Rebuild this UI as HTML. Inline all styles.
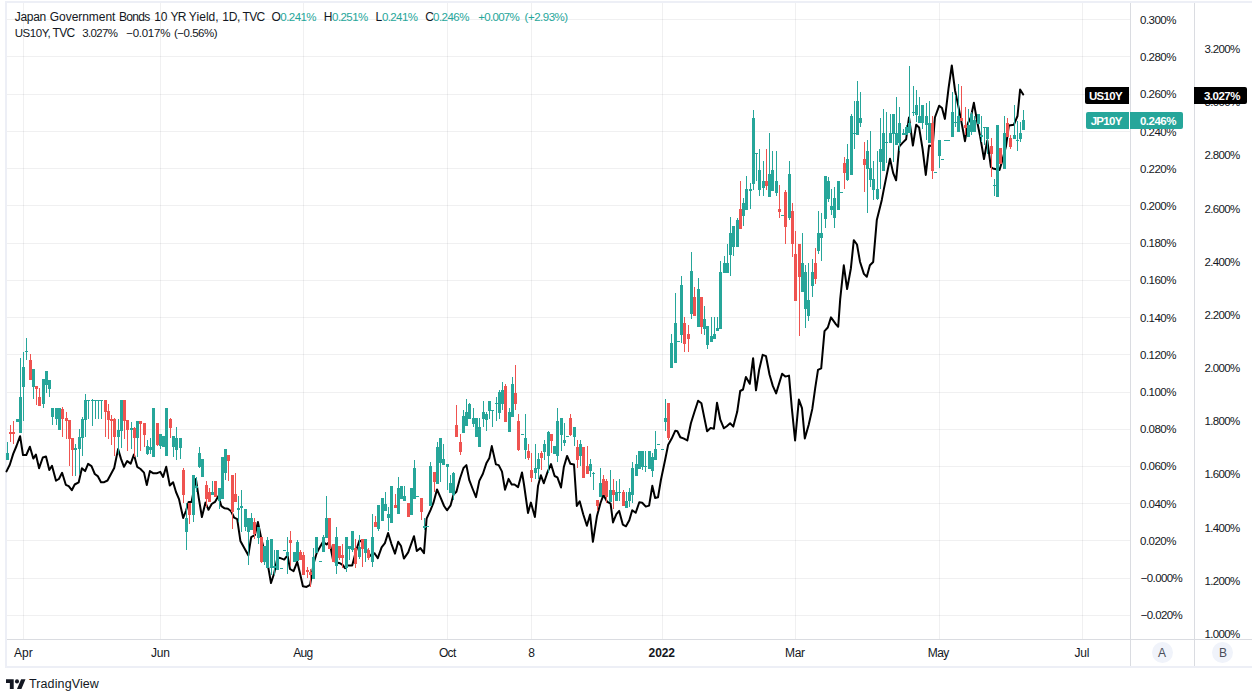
<!DOCTYPE html>
<html><head><meta charset="utf-8"><title>JP10Y vs US10Y</title>
<style>
html,body{margin:0;padding:0;background:#fff;}
body{width:1252px;height:696px;position:relative;overflow:hidden;font-family:"Liberation Sans",sans-serif;font-size:12px;color:#131722;}
#frame{position:absolute;left:5px;top:1px;width:1247px;height:667px;border-left:2px solid #edeff6;border-top:2px solid #edeff6;border-bottom:2px solid #edeff6;box-sizing:border-box;}
#chart{position:absolute;left:0;top:0;}
.ax{position:absolute;background:#dadce1;}
.s{position:absolute;height:14px;line-height:14px;white-space:pre;}
.tag{position:absolute;height:17px;}
.circ{position:absolute;width:21px;height:21px;border-radius:10.5px;background:#f0f3fa;}
</style></head><body>
<div id="frame"></div>
<svg id="chart" width="1252" height="696" viewBox="0 0 1252 696" shape-rendering="crispEdges"><rect x="7" y="19" width="1123" height="1" fill="#2a2e39" fill-opacity="0.07"/><rect x="7" y="56" width="1123" height="1" fill="#2a2e39" fill-opacity="0.07"/><rect x="7" y="94" width="1123" height="1" fill="#2a2e39" fill-opacity="0.07"/><rect x="7" y="131" width="1123" height="1" fill="#2a2e39" fill-opacity="0.07"/><rect x="7" y="168" width="1123" height="1" fill="#2a2e39" fill-opacity="0.07"/><rect x="7" y="205" width="1123" height="1" fill="#2a2e39" fill-opacity="0.07"/><rect x="7" y="243" width="1123" height="1" fill="#2a2e39" fill-opacity="0.07"/><rect x="7" y="280" width="1123" height="1" fill="#2a2e39" fill-opacity="0.07"/><rect x="7" y="317" width="1123" height="1" fill="#2a2e39" fill-opacity="0.07"/><rect x="7" y="354" width="1123" height="1" fill="#2a2e39" fill-opacity="0.07"/><rect x="7" y="392" width="1123" height="1" fill="#2a2e39" fill-opacity="0.07"/><rect x="7" y="429" width="1123" height="1" fill="#2a2e39" fill-opacity="0.07"/><rect x="7" y="466" width="1123" height="1" fill="#2a2e39" fill-opacity="0.07"/><rect x="7" y="503" width="1123" height="1" fill="#2a2e39" fill-opacity="0.07"/><rect x="7" y="540" width="1123" height="1" fill="#2a2e39" fill-opacity="0.07"/><rect x="7" y="578" width="1123" height="1" fill="#2a2e39" fill-opacity="0.07"/><rect x="7" y="615" width="1123" height="1" fill="#2a2e39" fill-opacity="0.07"/><rect x="23" y="3" width="1" height="636" fill="#2a2e39" fill-opacity="0.07"/><rect x="160" y="3" width="1" height="636" fill="#2a2e39" fill-opacity="0.07"/><rect x="303" y="3" width="1" height="636" fill="#2a2e39" fill-opacity="0.07"/><rect x="447" y="3" width="1" height="636" fill="#2a2e39" fill-opacity="0.07"/><rect x="531" y="3" width="1" height="636" fill="#2a2e39" fill-opacity="0.07"/><rect x="662" y="3" width="1" height="636" fill="#2a2e39" fill-opacity="0.07"/><rect x="795" y="3" width="1" height="636" fill="#2a2e39" fill-opacity="0.07"/><rect x="939" y="3" width="1" height="636" fill="#2a2e39" fill-opacity="0.07"/><rect x="1082" y="3" width="1" height="636" fill="#2a2e39" fill-opacity="0.07"/><polyline points="6.5,471.4 9.8,464.7 13.2,453.9 16.5,446.0 20.1,436.2 23.0,455.0 26.3,455.0 29.9,446.7 33.3,458.6 35.9,454.6 39.1,468.2 42.8,457.5 46.0,456.5 49.3,470.0 52.0,465.8 56.0,480.7 58.9,479.0 62.1,472.8 65.8,484.8 68.7,486.2 71.8,490.2 74.7,484.5 78.7,482.3 81.9,468.2 85.1,471.1 88.1,463.9 91.5,466.1 94.8,474.0 97.7,476.1 101.0,482.2 104.2,482.2 107.5,480.5 110.6,474.7 114.2,468.0 118.1,449.1 121.0,458.9 124.0,466.8 127.2,461.1 130.7,463.6 133.9,454.6 137.2,466.8 140.5,469.0 144.0,472.6 146.8,485.1 149.9,471.1 153.4,473.3 156.6,473.3 160.2,471.8 163.1,476.9 166.2,466.8 169.8,485.5 173.1,482.2 176.0,492.0 179.0,499.1 183.2,518.0 186.1,510.5 188.7,501.9 191.6,501.9 195.9,478.9 198.7,497.6 201.9,517.0 205.5,502.6 208.5,509.8 211.7,504.0 215.0,501.9 218.4,496.1 221.4,506.2 224.6,508.3 227.9,508.8 231.1,511.2 234.2,517.7 237.2,519.1 240.4,540.9 248.3,555.3 251.2,537.1 254.8,535.2 257.9,522.0 261.2,538.1 264.8,553.2 268.4,568.2 271.0,583.0 274.2,573.3 277.5,557.5 279.9,557.9 284.2,559.6 287.5,555.3 290.0,569.0 293.6,571.1 297.2,561.8 300.0,573.3 302.9,586.2 306.5,586.9 310.1,584.8 313.7,563.2 316.6,553.2 319.4,548.1 323.0,541.7 326.6,544.5 329.5,541.7 333.1,560.3 336.7,562.5 340.0,563.2 343.1,565.4 345.0,568.2 347.9,565.4 352.2,565.4 355.8,551.7 359.4,540.5 363.0,542.4 366.6,550.3 370.9,556.0 374.5,553.2 377.8,558.2 381.6,547.4 384.9,543.1 388.1,533.0 391.4,543.8 395.0,553.6 398.2,541.7 401.0,546.0 403.9,558.6 408.2,552.4 414.0,536.2 416.8,551.0 420.4,548.1 424.0,553.2 426.6,518.7 430.5,510.1 433.4,502.9 437.0,489.5 440.5,497.4 444.1,506.0 447.0,510.3 450.6,505.3 453.5,494.5 456.4,491.7 459.9,478.7 463.5,468.0 466.4,465.1 469.3,480.2 472.9,489.5 476.0,497.1 479.3,480.9 482.9,473.7 486.5,462.9 489.4,457.9 491.8,446.1 495.9,464.4 498.7,465.1 502.0,471.6 505.0,489.7 508.6,478.9 511.7,484.5 514.5,484.5 518.1,487.1 522.0,472.4 524.0,484.5 528.0,512.9 530.9,502.6 534.9,517.0 538.0,486.1 540.9,475.3 543.8,483.2 547.4,472.4 551.0,464.1 554.6,476.0 557.4,477.4 561.0,487.5 563.9,466.7 567.1,455.9 570.4,463.8 574.0,464.5 576.8,505.9 579.7,501.3 583.3,514.5 586.9,525.7 590.1,514.5 592.9,541.8 597.0,515.9 600.5,503.0 603.4,495.1 607.0,501.6 610.6,503.7 613.0,522.4 616.4,514.2 619.2,510.9 622.8,524.6 626.0,526.3 629.3,520.3 632.2,510.2 635.7,512.8 639.3,502.3 642.2,502.7 645.8,506.6 649.1,505.6 652.3,485.8 655.1,498.0 658.0,497.3 660.9,480.0 665.2,459.5 668.1,445.1 671.7,438.6 675.3,430.7 677.4,431.2 680.3,437.2 684.0,438.6 687.3,440.5 690.9,423.3 694.5,411.8 698.1,400.7 701.4,403.2 704.3,417.6 707.1,431.2 710.6,427.9 713.9,428.8 717.0,402.8 720.3,419.7 723.9,428.3 726.8,426.2 730.1,423.3 733.3,426.6 737.2,411.8 740.2,391.0 743.0,389.5 745.9,377.0 749.8,383.8 753.1,358.2 756.0,390.3 759.1,370.1 762.7,354.8 766.0,356.2 769.5,374.5 772.8,385.9 776.1,393.4 782.1,373.7 785.3,376.6 789.0,375.6 791.9,408.9 795.1,440.5 798.9,399.6 802.0,408.2 804.8,438.4 808.7,424.7 812.3,408.9 815.2,388.1 818.0,369.9 821.2,368.4 824.5,331.1 827.8,327.5 831.0,317.4 836.0,324.3 838.2,326.8 840.2,299.1 843.8,265.3 847.1,289.0 850.9,268.2 853.8,240.2 857.0,244.5 860.0,261.7 863.9,273.9 866.8,276.8 869.9,265.3 873.2,262.0 876.8,220.1 881.8,199.9 883.9,188.9 890.0,158.7 893.2,173.1 896.1,180.3 899.2,146.5 902.5,142.9 906.1,139.3 909.0,117.5 912.9,145.5 916.2,124.7 919.1,127.5 922.6,149.1 925.8,174.9 929.1,145.5 932.7,146.2 934.9,117.5 939.2,105.7 942.0,108.1 944.9,118.9 948.5,88.7 951.8,65.5 955.0,90.2 958.6,107.4 961.4,121.8 965.0,141.2 967.9,123.2 970.8,117.5 973.9,102.8 977.2,121.8 980.1,136.1 984.0,159.1 987.3,140.5 990.9,167.0 993.0,168.5 999.5,169.9 1001.7,162.7 1006.0,146.2 1008.9,125.4 1013.9,124.7 1017.5,116.0 1020.1,89.5 1023.2,94.5" fill="none" stroke="#000" stroke-width="2" stroke-linejoin="round" stroke-linecap="round" shape-rendering="geometricPrecision"/><rect x="7" y="442" width="1" height="18" fill="#26a69a"/><rect x="6" y="453" width="3" height="7" fill="#26a69a"/><rect x="10" y="425" width="1" height="17" fill="#ef5350"/><rect x="9" y="432" width="3" height="2" fill="#ef5350"/><rect x="13" y="421" width="1" height="23" fill="#ef5350"/><rect x="12" y="432" width="3" height="2" fill="#ef5350"/><rect x="16" y="419" width="3" height="3" fill="#26a69a"/><rect x="20" y="358" width="1" height="75" fill="#26a69a"/><rect x="19" y="397" width="3" height="36" fill="#26a69a"/><rect x="23" y="352" width="1" height="69" fill="#26a69a"/><rect x="22" y="367" width="3" height="20" fill="#26a69a"/><rect x="26" y="338" width="1" height="22" fill="#26a69a"/><rect x="25" y="351" width="3" height="1" fill="#26a69a"/><rect x="30" y="354" width="1" height="26" fill="#ef5350"/><rect x="29" y="360" width="3" height="20" fill="#ef5350"/><rect x="33" y="369" width="1" height="30" fill="#26a69a"/><rect x="32" y="369" width="3" height="18" fill="#26a69a"/><rect x="36" y="386" width="1" height="19" fill="#ef5350"/><rect x="35" y="386" width="3" height="3" fill="#ef5350"/><rect x="39" y="388" width="1" height="18" fill="#ef5350"/><rect x="38" y="397" width="3" height="9" fill="#ef5350"/><rect x="43" y="379" width="1" height="29" fill="#26a69a"/><rect x="42" y="379" width="3" height="25" fill="#26a69a"/><rect x="46" y="371" width="1" height="22" fill="#26a69a"/><rect x="45" y="371" width="3" height="14" fill="#26a69a"/><rect x="49" y="380" width="1" height="17" fill="#26a69a"/><rect x="48" y="380" width="3" height="9" fill="#26a69a"/><rect x="52" y="408" width="1" height="17" fill="#26a69a"/><rect x="51" y="408" width="3" height="9" fill="#26a69a"/><rect x="56" y="408" width="1" height="17" fill="#26a69a"/><rect x="55" y="408" width="3" height="11" fill="#26a69a"/><rect x="58" y="408" width="3" height="22" fill="#26a69a"/><rect x="62" y="407" width="1" height="30" fill="#ef5350"/><rect x="61" y="409" width="3" height="10" fill="#ef5350"/><rect x="66" y="412" width="1" height="27" fill="#ef5350"/><rect x="65" y="418" width="3" height="3" fill="#ef5350"/><rect x="69" y="420" width="1" height="46" fill="#ef5350"/><rect x="68" y="420" width="3" height="19" fill="#ef5350"/><rect x="72" y="438" width="1" height="38" fill="#ef5350"/><rect x="71" y="438" width="3" height="12" fill="#ef5350"/><rect x="75" y="444" width="1" height="32" fill="#26a69a"/><rect x="74" y="448" width="3" height="2" fill="#26a69a"/><rect x="79" y="429" width="1" height="45" fill="#26a69a"/><rect x="78" y="437" width="3" height="12" fill="#26a69a"/><rect x="82" y="417" width="1" height="39" fill="#26a69a"/><rect x="81" y="419" width="3" height="19" fill="#26a69a"/><rect x="85" y="394" width="1" height="43" fill="#26a69a"/><rect x="84" y="400" width="3" height="20" fill="#26a69a"/><rect x="88" y="400" width="1" height="19" fill="#26a69a"/><rect x="87" y="400" width="3" height="1" fill="#26a69a"/><rect x="92" y="399" width="1" height="27" fill="#26a69a"/><rect x="91" y="400" width="3" height="1" fill="#26a69a"/><rect x="95" y="400" width="1" height="19" fill="#26a69a"/><rect x="94" y="400" width="3" height="1" fill="#26a69a"/><rect x="98" y="400" width="1" height="19" fill="#26a69a"/><rect x="97" y="400" width="3" height="1" fill="#26a69a"/><rect x="101" y="400" width="1" height="19" fill="#26a69a"/><rect x="100" y="400" width="3" height="1" fill="#26a69a"/><rect x="105" y="400" width="1" height="37" fill="#ef5350"/><rect x="104" y="400" width="3" height="12" fill="#ef5350"/><rect x="108" y="404" width="1" height="35" fill="#ef5350"/><rect x="107" y="411" width="3" height="9" fill="#ef5350"/><rect x="111" y="415" width="1" height="30" fill="#ef5350"/><rect x="110" y="419" width="3" height="2" fill="#ef5350"/><rect x="114" y="418" width="1" height="38" fill="#ef5350"/><rect x="113" y="419" width="3" height="18" fill="#ef5350"/><rect x="118" y="419" width="1" height="35" fill="#26a69a"/><rect x="117" y="430" width="3" height="7" fill="#26a69a"/><rect x="121" y="400" width="1" height="48" fill="#26a69a"/><rect x="120" y="400" width="3" height="31" fill="#26a69a"/><rect x="124" y="400" width="1" height="39" fill="#ef5350"/><rect x="123" y="400" width="3" height="21" fill="#ef5350"/><rect x="127" y="420" width="1" height="31" fill="#ef5350"/><rect x="126" y="420" width="3" height="10" fill="#ef5350"/><rect x="131" y="422" width="1" height="27" fill="#26a69a"/><rect x="130" y="428" width="3" height="2" fill="#26a69a"/><rect x="134" y="427" width="1" height="30" fill="#ef5350"/><rect x="133" y="428" width="3" height="10" fill="#ef5350"/><rect x="137" y="421" width="1" height="36" fill="#26a69a"/><rect x="136" y="421" width="3" height="17" fill="#26a69a"/><rect x="140" y="421" width="1" height="30" fill="#ef5350"/><rect x="139" y="421" width="3" height="3" fill="#ef5350"/><rect x="144" y="423" width="1" height="24" fill="#ef5350"/><rect x="143" y="423" width="3" height="12" fill="#ef5350"/><rect x="147" y="440" width="1" height="15" fill="#26a69a"/><rect x="146" y="446" width="3" height="8" fill="#26a69a"/><rect x="150" y="438" width="1" height="16" fill="#26a69a"/><rect x="149" y="447" width="3" height="3" fill="#26a69a"/><rect x="152" y="408" width="3" height="49" fill="#26a69a"/><rect x="157" y="423" width="1" height="23" fill="#ef5350"/><rect x="156" y="423" width="3" height="22" fill="#ef5350"/><rect x="160" y="434" width="1" height="15" fill="#26a69a"/><rect x="159" y="434" width="3" height="12" fill="#26a69a"/><rect x="162" y="436" width="3" height="11" fill="#26a69a"/><rect x="165" y="408" width="3" height="48" fill="#26a69a"/><rect x="170" y="418" width="1" height="20" fill="#ef5350"/><rect x="169" y="419" width="3" height="9" fill="#ef5350"/><rect x="173" y="436" width="1" height="21" fill="#26a69a"/><rect x="172" y="436" width="3" height="11" fill="#26a69a"/><rect x="176" y="427" width="1" height="33" fill="#26a69a"/><rect x="175" y="438" width="3" height="12" fill="#26a69a"/><rect x="180" y="438" width="1" height="21" fill="#26a69a"/><rect x="179" y="438" width="3" height="10" fill="#26a69a"/><rect x="183" y="468" width="1" height="35" fill="#ef5350"/><rect x="182" y="470" width="3" height="25" fill="#ef5350"/><rect x="186" y="503" width="1" height="47" fill="#26a69a"/><rect x="185" y="518" width="3" height="14" fill="#26a69a"/><rect x="189" y="503" width="1" height="21" fill="#ef5350"/><rect x="188" y="503" width="3" height="12" fill="#ef5350"/><rect x="193" y="475" width="1" height="47" fill="#26a69a"/><rect x="192" y="475" width="3" height="40" fill="#26a69a"/><rect x="196" y="477" width="1" height="15" fill="#26a69a"/><rect x="195" y="486" width="3" height="2" fill="#26a69a"/><rect x="199" y="447" width="1" height="21" fill="#26a69a"/><rect x="198" y="453" width="3" height="14" fill="#26a69a"/><rect x="201" y="459" width="3" height="18" fill="#26a69a"/><rect x="206" y="481" width="1" height="26" fill="#ef5350"/><rect x="205" y="485" width="3" height="14" fill="#ef5350"/><rect x="209" y="488" width="1" height="14" fill="#ef5350"/><rect x="208" y="492" width="3" height="10" fill="#ef5350"/><rect x="212" y="481" width="1" height="14" fill="#26a69a"/><rect x="211" y="492" width="3" height="3" fill="#26a69a"/><rect x="214" y="481" width="3" height="16" fill="#ef5350"/><rect x="219" y="488" width="1" height="21" fill="#26a69a"/><rect x="218" y="488" width="3" height="13" fill="#26a69a"/><rect x="221" y="457" width="3" height="42" fill="#26a69a"/><rect x="225" y="449" width="1" height="31" fill="#26a69a"/><rect x="224" y="449" width="3" height="24" fill="#26a69a"/><rect x="228" y="455" width="1" height="26" fill="#ef5350"/><rect x="227" y="455" width="3" height="6" fill="#ef5350"/><rect x="232" y="475" width="1" height="54" fill="#ef5350"/><rect x="231" y="475" width="3" height="37" fill="#ef5350"/><rect x="235" y="473" width="1" height="29" fill="#ef5350"/><rect x="234" y="494" width="3" height="8" fill="#ef5350"/><rect x="238" y="496" width="1" height="26" fill="#26a69a"/><rect x="237" y="508" width="3" height="2" fill="#26a69a"/><rect x="241" y="490" width="1" height="42" fill="#26a69a"/><rect x="240" y="506" width="3" height="2" fill="#26a69a"/><rect x="245" y="509" width="1" height="22" fill="#26a69a"/><rect x="244" y="509" width="3" height="18" fill="#26a69a"/><rect x="248" y="518" width="1" height="47" fill="#26a69a"/><rect x="247" y="518" width="3" height="14" fill="#26a69a"/><rect x="251" y="513" width="1" height="17" fill="#26a69a"/><rect x="250" y="518" width="3" height="12" fill="#26a69a"/><rect x="254" y="518" width="1" height="21" fill="#ef5350"/><rect x="253" y="522" width="3" height="12" fill="#ef5350"/><rect x="258" y="527" width="1" height="17" fill="#26a69a"/><rect x="257" y="527" width="3" height="11" fill="#26a69a"/><rect x="261" y="537" width="1" height="26" fill="#ef5350"/><rect x="260" y="537" width="3" height="25" fill="#ef5350"/><rect x="264" y="546" width="1" height="19" fill="#26a69a"/><rect x="263" y="546" width="3" height="16" fill="#26a69a"/><rect x="267" y="537" width="1" height="31" fill="#26a69a"/><rect x="266" y="540" width="3" height="28" fill="#26a69a"/><rect x="271" y="539" width="1" height="36" fill="#26a69a"/><rect x="270" y="539" width="3" height="29" fill="#26a69a"/><rect x="274" y="550" width="1" height="25" fill="#26a69a"/><rect x="273" y="566" width="3" height="2" fill="#26a69a"/><rect x="276" y="550" width="3" height="20" fill="#26a69a"/><rect x="280" y="568" width="3" height="1" fill="#26a69a"/><rect x="283" y="550" width="3" height="1" fill="#26a69a"/><rect x="287" y="537" width="1" height="37" fill="#26a69a"/><rect x="286" y="552" width="3" height="4" fill="#26a69a"/><rect x="290" y="531" width="1" height="35" fill="#ef5350"/><rect x="289" y="540" width="3" height="3" fill="#ef5350"/><rect x="293" y="552" width="3" height="10" fill="#26a69a"/><rect x="297" y="540" width="1" height="21" fill="#26a69a"/><rect x="296" y="542" width="3" height="19" fill="#26a69a"/><rect x="300" y="550" width="1" height="10" fill="#ef5350"/><rect x="299" y="552" width="3" height="8" fill="#ef5350"/><rect x="303" y="552" width="1" height="23" fill="#ef5350"/><rect x="302" y="555" width="3" height="20" fill="#ef5350"/><rect x="307" y="567" width="1" height="11" fill="#ef5350"/><rect x="306" y="570" width="3" height="2" fill="#ef5350"/><rect x="310" y="569" width="1" height="18" fill="#ef5350"/><rect x="309" y="572" width="3" height="3" fill="#ef5350"/><rect x="313" y="548" width="1" height="31" fill="#26a69a"/><rect x="312" y="557" width="3" height="22" fill="#26a69a"/><rect x="315" y="537" width="3" height="16" fill="#26a69a"/><rect x="319" y="561" width="3" height="1" fill="#26a69a"/><rect x="323" y="535" width="1" height="17" fill="#26a69a"/><rect x="322" y="537" width="3" height="15" fill="#26a69a"/><rect x="326" y="496" width="1" height="42" fill="#26a69a"/><rect x="325" y="518" width="3" height="20" fill="#26a69a"/><rect x="328" y="518" width="3" height="31" fill="#ef5350"/><rect x="332" y="544" width="3" height="18" fill="#ef5350"/><rect x="336" y="527" width="1" height="47" fill="#26a69a"/><rect x="335" y="537" width="3" height="29" fill="#26a69a"/><rect x="339" y="546" width="1" height="14" fill="#ef5350"/><rect x="338" y="546" width="3" height="12" fill="#ef5350"/><rect x="342" y="544" width="1" height="24" fill="#ef5350"/><rect x="341" y="555" width="3" height="3" fill="#ef5350"/><rect x="346" y="537" width="1" height="35" fill="#26a69a"/><rect x="345" y="537" width="3" height="31" fill="#26a69a"/><rect x="349" y="546" width="1" height="14" fill="#26a69a"/><rect x="348" y="546" width="3" height="3" fill="#26a69a"/><rect x="352" y="531" width="1" height="21" fill="#26a69a"/><rect x="351" y="531" width="3" height="19" fill="#26a69a"/><rect x="355" y="539" width="1" height="29" fill="#ef5350"/><rect x="354" y="548" width="3" height="16" fill="#ef5350"/><rect x="359" y="535" width="1" height="24" fill="#26a69a"/><rect x="358" y="547" width="3" height="10" fill="#26a69a"/><rect x="362" y="539" width="1" height="28" fill="#ef5350"/><rect x="361" y="539" width="3" height="10" fill="#ef5350"/><rect x="365" y="539" width="1" height="23" fill="#26a69a"/><rect x="364" y="539" width="3" height="14" fill="#26a69a"/><rect x="368" y="548" width="1" height="12" fill="#ef5350"/><rect x="367" y="550" width="3" height="8" fill="#ef5350"/><rect x="372" y="514" width="1" height="53" fill="#26a69a"/><rect x="371" y="537" width="3" height="25" fill="#26a69a"/><rect x="375" y="516" width="1" height="11" fill="#ef5350"/><rect x="374" y="522" width="3" height="5" fill="#ef5350"/><rect x="378" y="505" width="1" height="26" fill="#26a69a"/><rect x="377" y="505" width="3" height="24" fill="#26a69a"/><rect x="381" y="498" width="3" height="23" fill="#26a69a"/><rect x="385" y="492" width="1" height="19" fill="#26a69a"/><rect x="384" y="504" width="3" height="7" fill="#26a69a"/><rect x="388" y="507" width="1" height="24" fill="#26a69a"/><rect x="387" y="514" width="3" height="4" fill="#26a69a"/><rect x="390" y="486" width="3" height="37" fill="#26a69a"/><rect x="395" y="494" width="1" height="14" fill="#ef5350"/><rect x="394" y="505" width="3" height="3" fill="#ef5350"/><rect x="398" y="477" width="1" height="37" fill="#26a69a"/><rect x="397" y="488" width="3" height="26" fill="#26a69a"/><rect x="400" y="486" width="3" height="13" fill="#26a69a"/><rect x="404" y="486" width="1" height="15" fill="#26a69a"/><rect x="403" y="496" width="3" height="5" fill="#26a69a"/><rect x="407" y="503" width="3" height="14" fill="#ef5350"/><rect x="410" y="488" width="3" height="27" fill="#26a69a"/><rect x="414" y="460" width="1" height="39" fill="#26a69a"/><rect x="413" y="468" width="3" height="31" fill="#26a69a"/><rect x="416" y="496" width="3" height="1" fill="#26a69a"/><rect x="421" y="498" width="1" height="22" fill="#ef5350"/><rect x="420" y="498" width="3" height="14" fill="#ef5350"/><rect x="424" y="518" width="1" height="12" fill="#26a69a"/><rect x="423" y="526" width="3" height="2" fill="#26a69a"/><rect x="426" y="526" width="3" height="1" fill="#26a69a"/><rect x="430" y="462" width="1" height="44" fill="#26a69a"/><rect x="429" y="466" width="3" height="40" fill="#26a69a"/><rect x="434" y="472" width="1" height="20" fill="#ef5350"/><rect x="433" y="472" width="3" height="10" fill="#ef5350"/><rect x="437" y="442" width="1" height="42" fill="#26a69a"/><rect x="436" y="447" width="3" height="37" fill="#26a69a"/><rect x="440" y="438" width="1" height="44" fill="#26a69a"/><rect x="439" y="438" width="3" height="25" fill="#26a69a"/><rect x="443" y="444" width="1" height="21" fill="#26a69a"/><rect x="442" y="459" width="3" height="6" fill="#26a69a"/><rect x="447" y="464" width="1" height="26" fill="#26a69a"/><rect x="446" y="464" width="3" height="3" fill="#26a69a"/><rect x="450" y="475" width="1" height="18" fill="#26a69a"/><rect x="449" y="483" width="3" height="10" fill="#26a69a"/><rect x="453" y="472" width="1" height="28" fill="#26a69a"/><rect x="452" y="473" width="3" height="22" fill="#26a69a"/><rect x="456" y="405" width="1" height="32" fill="#ef5350"/><rect x="455" y="425" width="3" height="12" fill="#ef5350"/><rect x="460" y="434" width="1" height="21" fill="#ef5350"/><rect x="459" y="442" width="3" height="10" fill="#ef5350"/><rect x="463" y="410" width="1" height="23" fill="#26a69a"/><rect x="462" y="416" width="3" height="17" fill="#26a69a"/><rect x="466" y="399" width="1" height="27" fill="#26a69a"/><rect x="465" y="412" width="3" height="14" fill="#26a69a"/><rect x="469" y="403" width="1" height="16" fill="#26a69a"/><rect x="468" y="404" width="3" height="15" fill="#26a69a"/><rect x="473" y="408" width="1" height="19" fill="#26a69a"/><rect x="472" y="418" width="3" height="6" fill="#26a69a"/><rect x="475" y="418" width="3" height="19" fill="#26a69a"/><rect x="479" y="418" width="1" height="29" fill="#26a69a"/><rect x="478" y="427" width="3" height="20" fill="#26a69a"/><rect x="483" y="401" width="1" height="26" fill="#26a69a"/><rect x="482" y="412" width="3" height="7" fill="#26a69a"/><rect x="486" y="412" width="1" height="19" fill="#26a69a"/><rect x="485" y="414" width="3" height="6" fill="#26a69a"/><rect x="489" y="401" width="1" height="18" fill="#26a69a"/><rect x="488" y="401" width="3" height="10" fill="#26a69a"/><rect x="492" y="410" width="1" height="17" fill="#26a69a"/><rect x="491" y="410" width="3" height="1" fill="#26a69a"/><rect x="496" y="397" width="1" height="24" fill="#26a69a"/><rect x="495" y="403" width="3" height="1" fill="#26a69a"/><rect x="499" y="390" width="1" height="29" fill="#26a69a"/><rect x="498" y="392" width="3" height="21" fill="#26a69a"/><rect x="502" y="382" width="1" height="28" fill="#26a69a"/><rect x="501" y="390" width="3" height="14" fill="#26a69a"/><rect x="505" y="384" width="1" height="38" fill="#ef5350"/><rect x="504" y="386" width="3" height="36" fill="#ef5350"/><rect x="509" y="408" width="1" height="24" fill="#26a69a"/><rect x="508" y="412" width="3" height="20" fill="#26a69a"/><rect x="512" y="377" width="1" height="40" fill="#26a69a"/><rect x="511" y="384" width="3" height="33" fill="#26a69a"/><rect x="515" y="365" width="1" height="45" fill="#ef5350"/><rect x="514" y="393" width="3" height="11" fill="#ef5350"/><rect x="518" y="414" width="1" height="37" fill="#ef5350"/><rect x="517" y="421" width="3" height="29" fill="#ef5350"/><rect x="521" y="434" width="3" height="1" fill="#26a69a"/><rect x="525" y="414" width="1" height="45" fill="#26a69a"/><rect x="524" y="438" width="3" height="12" fill="#26a69a"/><rect x="528" y="444" width="1" height="16" fill="#ef5350"/><rect x="527" y="451" width="3" height="7" fill="#ef5350"/><rect x="531" y="453" width="1" height="29" fill="#ef5350"/><rect x="530" y="470" width="3" height="8" fill="#ef5350"/><rect x="535" y="444" width="1" height="35" fill="#26a69a"/><rect x="534" y="468" width="3" height="5" fill="#26a69a"/><rect x="538" y="453" width="1" height="26" fill="#26a69a"/><rect x="537" y="459" width="3" height="10" fill="#26a69a"/><rect x="541" y="451" width="1" height="19" fill="#ef5350"/><rect x="540" y="453" width="3" height="5" fill="#ef5350"/><rect x="544" y="440" width="1" height="20" fill="#26a69a"/><rect x="543" y="444" width="3" height="8" fill="#26a69a"/><rect x="548" y="431" width="1" height="42" fill="#26a69a"/><rect x="547" y="432" width="3" height="24" fill="#26a69a"/><rect x="551" y="434" width="1" height="19" fill="#ef5350"/><rect x="550" y="434" width="3" height="7" fill="#ef5350"/><rect x="553" y="446" width="3" height="8" fill="#26a69a"/><rect x="557" y="408" width="1" height="54" fill="#26a69a"/><rect x="556" y="421" width="3" height="35" fill="#26a69a"/><rect x="561" y="418" width="1" height="33" fill="#26a69a"/><rect x="560" y="418" width="3" height="17" fill="#26a69a"/><rect x="564" y="423" width="1" height="23" fill="#26a69a"/><rect x="563" y="440" width="3" height="3" fill="#26a69a"/><rect x="566" y="436" width="3" height="1" fill="#26a69a"/><rect x="570" y="414" width="1" height="22" fill="#ef5350"/><rect x="569" y="418" width="3" height="17" fill="#ef5350"/><rect x="574" y="427" width="1" height="19" fill="#26a69a"/><rect x="573" y="427" width="3" height="10" fill="#26a69a"/><rect x="577" y="440" width="1" height="28" fill="#ef5350"/><rect x="576" y="447" width="3" height="13" fill="#ef5350"/><rect x="580" y="440" width="1" height="26" fill="#26a69a"/><rect x="579" y="444" width="3" height="12" fill="#26a69a"/><rect x="582" y="447" width="3" height="31" fill="#ef5350"/><rect x="587" y="446" width="1" height="28" fill="#ef5350"/><rect x="586" y="466" width="3" height="8" fill="#ef5350"/><rect x="590" y="459" width="1" height="18" fill="#26a69a"/><rect x="589" y="464" width="3" height="7" fill="#26a69a"/><rect x="593" y="472" width="1" height="18" fill="#26a69a"/><rect x="592" y="473" width="3" height="1" fill="#26a69a"/><rect x="597" y="500" width="1" height="11" fill="#ef5350"/><rect x="596" y="500" width="3" height="6" fill="#ef5350"/><rect x="600" y="468" width="1" height="29" fill="#26a69a"/><rect x="599" y="483" width="3" height="14" fill="#26a69a"/><rect x="603" y="475" width="1" height="20" fill="#ef5350"/><rect x="602" y="479" width="3" height="16" fill="#ef5350"/><rect x="606" y="479" width="1" height="24" fill="#ef5350"/><rect x="605" y="481" width="3" height="16" fill="#ef5350"/><rect x="610" y="470" width="1" height="32" fill="#26a69a"/><rect x="609" y="490" width="3" height="12" fill="#26a69a"/><rect x="613" y="479" width="1" height="30" fill="#ef5350"/><rect x="612" y="490" width="3" height="5" fill="#ef5350"/><rect x="616" y="481" width="1" height="20" fill="#26a69a"/><rect x="615" y="492" width="3" height="9" fill="#26a69a"/><rect x="619" y="479" width="1" height="22" fill="#26a69a"/><rect x="618" y="492" width="3" height="1" fill="#26a69a"/><rect x="623" y="490" width="1" height="16" fill="#ef5350"/><rect x="622" y="492" width="3" height="14" fill="#ef5350"/><rect x="626" y="492" width="1" height="16" fill="#26a69a"/><rect x="625" y="501" width="3" height="7" fill="#26a69a"/><rect x="629" y="488" width="1" height="19" fill="#26a69a"/><rect x="628" y="492" width="3" height="9" fill="#26a69a"/><rect x="632" y="462" width="1" height="41" fill="#26a69a"/><rect x="631" y="468" width="3" height="27" fill="#26a69a"/><rect x="636" y="455" width="1" height="21" fill="#26a69a"/><rect x="635" y="464" width="3" height="12" fill="#26a69a"/><rect x="638" y="451" width="3" height="18" fill="#26a69a"/><rect x="642" y="451" width="1" height="19" fill="#26a69a"/><rect x="641" y="451" width="3" height="16" fill="#26a69a"/><rect x="645" y="451" width="1" height="21" fill="#26a69a"/><rect x="644" y="466" width="3" height="1" fill="#26a69a"/><rect x="648" y="451" width="3" height="18" fill="#26a69a"/><rect x="652" y="453" width="1" height="24" fill="#26a69a"/><rect x="651" y="457" width="3" height="14" fill="#26a69a"/><rect x="655" y="431" width="1" height="29" fill="#26a69a"/><rect x="654" y="449" width="3" height="11" fill="#26a69a"/><rect x="657" y="444" width="3" height="1" fill="#26a69a"/><rect x="661" y="449" width="3" height="1" fill="#26a69a"/><rect x="665" y="399" width="1" height="32" fill="#26a69a"/><rect x="664" y="418" width="3" height="4" fill="#26a69a"/><rect x="668" y="403" width="1" height="37" fill="#ef5350"/><rect x="667" y="403" width="3" height="35" fill="#ef5350"/><rect x="671" y="334" width="1" height="34" fill="#26a69a"/><rect x="670" y="343" width="3" height="25" fill="#26a69a"/><rect x="675" y="293" width="1" height="70" fill="#26a69a"/><rect x="674" y="323" width="3" height="40" fill="#26a69a"/><rect x="677" y="341" width="3" height="1" fill="#26a69a"/><rect x="681" y="276" width="1" height="67" fill="#26a69a"/><rect x="680" y="285" width="3" height="50" fill="#26a69a"/><rect x="684" y="317" width="1" height="35" fill="#ef5350"/><rect x="683" y="323" width="3" height="21" fill="#ef5350"/><rect x="688" y="325" width="1" height="27" fill="#ef5350"/><rect x="687" y="334" width="3" height="5" fill="#ef5350"/><rect x="691" y="252" width="1" height="67" fill="#26a69a"/><rect x="690" y="271" width="3" height="43" fill="#26a69a"/><rect x="694" y="287" width="1" height="29" fill="#ef5350"/><rect x="693" y="297" width="3" height="19" fill="#ef5350"/><rect x="698" y="278" width="1" height="49" fill="#26a69a"/><rect x="697" y="289" width="3" height="38" fill="#26a69a"/><rect x="701" y="297" width="1" height="37" fill="#ef5350"/><rect x="700" y="297" width="3" height="30" fill="#ef5350"/><rect x="704" y="306" width="1" height="29" fill="#26a69a"/><rect x="703" y="319" width="3" height="10" fill="#26a69a"/><rect x="707" y="326" width="1" height="23" fill="#26a69a"/><rect x="706" y="326" width="3" height="19" fill="#26a69a"/><rect x="711" y="317" width="1" height="25" fill="#26a69a"/><rect x="710" y="336" width="3" height="6" fill="#26a69a"/><rect x="714" y="317" width="1" height="22" fill="#26a69a"/><rect x="713" y="334" width="3" height="5" fill="#26a69a"/><rect x="717" y="317" width="1" height="14" fill="#26a69a"/><rect x="716" y="328" width="3" height="3" fill="#26a69a"/><rect x="720" y="261" width="1" height="68" fill="#26a69a"/><rect x="719" y="272" width="3" height="57" fill="#26a69a"/><rect x="724" y="256" width="1" height="17" fill="#26a69a"/><rect x="723" y="263" width="3" height="10" fill="#26a69a"/><rect x="727" y="244" width="1" height="29" fill="#26a69a"/><rect x="726" y="263" width="3" height="10" fill="#26a69a"/><rect x="730" y="217" width="1" height="59" fill="#26a69a"/><rect x="729" y="233" width="3" height="22" fill="#26a69a"/><rect x="733" y="226" width="1" height="30" fill="#26a69a"/><rect x="732" y="226" width="3" height="21" fill="#26a69a"/><rect x="737" y="218" width="1" height="29" fill="#26a69a"/><rect x="736" y="220" width="3" height="27" fill="#26a69a"/><rect x="740" y="181" width="1" height="48" fill="#ef5350"/><rect x="739" y="209" width="3" height="20" fill="#ef5350"/><rect x="743" y="198" width="1" height="28" fill="#26a69a"/><rect x="742" y="203" width="3" height="13" fill="#26a69a"/><rect x="746" y="176" width="1" height="34" fill="#26a69a"/><rect x="745" y="189" width="3" height="21" fill="#26a69a"/><rect x="750" y="183" width="1" height="26" fill="#26a69a"/><rect x="749" y="189" width="3" height="2" fill="#26a69a"/><rect x="753" y="110" width="1" height="80" fill="#26a69a"/><rect x="752" y="118" width="3" height="66" fill="#26a69a"/><rect x="756" y="153" width="1" height="28" fill="#26a69a"/><rect x="755" y="153" width="3" height="1" fill="#26a69a"/><rect x="759" y="149" width="1" height="47" fill="#26a69a"/><rect x="758" y="170" width="3" height="20" fill="#26a69a"/><rect x="763" y="161" width="1" height="35" fill="#26a69a"/><rect x="762" y="181" width="3" height="7" fill="#26a69a"/><rect x="766" y="149" width="1" height="41" fill="#ef5350"/><rect x="765" y="181" width="3" height="5" fill="#ef5350"/><rect x="769" y="133" width="1" height="64" fill="#26a69a"/><rect x="768" y="174" width="3" height="23" fill="#26a69a"/><rect x="772" y="151" width="1" height="40" fill="#26a69a"/><rect x="771" y="170" width="3" height="21" fill="#26a69a"/><rect x="776" y="151" width="1" height="45" fill="#26a69a"/><rect x="775" y="181" width="3" height="12" fill="#26a69a"/><rect x="779" y="185" width="1" height="33" fill="#ef5350"/><rect x="778" y="209" width="3" height="3" fill="#ef5350"/><rect x="781" y="215" width="3" height="1" fill="#26a69a"/><rect x="785" y="190" width="1" height="54" fill="#ef5350"/><rect x="784" y="192" width="3" height="35" fill="#ef5350"/><rect x="789" y="161" width="1" height="59" fill="#26a69a"/><rect x="788" y="174" width="3" height="44" fill="#26a69a"/><rect x="792" y="203" width="1" height="54" fill="#ef5350"/><rect x="791" y="211" width="3" height="33" fill="#ef5350"/><rect x="795" y="231" width="1" height="70" fill="#ef5350"/><rect x="794" y="254" width="3" height="47" fill="#ef5350"/><rect x="799" y="244" width="1" height="92" fill="#ef5350"/><rect x="798" y="244" width="3" height="33" fill="#ef5350"/><rect x="802" y="233" width="1" height="59" fill="#26a69a"/><rect x="801" y="263" width="3" height="29" fill="#26a69a"/><rect x="805" y="265" width="1" height="63" fill="#26a69a"/><rect x="804" y="272" width="3" height="37" fill="#26a69a"/><rect x="808" y="263" width="1" height="58" fill="#26a69a"/><rect x="807" y="300" width="3" height="16" fill="#26a69a"/><rect x="812" y="259" width="1" height="38" fill="#26a69a"/><rect x="811" y="272" width="3" height="14" fill="#26a69a"/><rect x="815" y="248" width="1" height="36" fill="#ef5350"/><rect x="814" y="263" width="3" height="16" fill="#ef5350"/><rect x="818" y="211" width="1" height="43" fill="#26a69a"/><rect x="817" y="233" width="3" height="18" fill="#26a69a"/><rect x="821" y="213" width="1" height="48" fill="#26a69a"/><rect x="820" y="233" width="3" height="5" fill="#26a69a"/><rect x="825" y="176" width="1" height="52" fill="#26a69a"/><rect x="824" y="176" width="3" height="43" fill="#26a69a"/><rect x="828" y="177" width="1" height="25" fill="#26a69a"/><rect x="827" y="181" width="3" height="18" fill="#26a69a"/><rect x="831" y="189" width="1" height="26" fill="#26a69a"/><rect x="830" y="206" width="3" height="4" fill="#26a69a"/><rect x="834" y="187" width="1" height="41" fill="#26a69a"/><rect x="833" y="198" width="3" height="20" fill="#26a69a"/><rect x="837" y="181" width="3" height="29" fill="#26a69a"/><rect x="840" y="192" width="3" height="1" fill="#26a69a"/><rect x="844" y="157" width="1" height="32" fill="#ef5350"/><rect x="843" y="163" width="3" height="10" fill="#ef5350"/><rect x="847" y="144" width="1" height="37" fill="#26a69a"/><rect x="846" y="159" width="3" height="21" fill="#26a69a"/><rect x="851" y="114" width="1" height="61" fill="#26a69a"/><rect x="850" y="116" width="3" height="59" fill="#26a69a"/><rect x="854" y="101" width="1" height="48" fill="#26a69a"/><rect x="853" y="133" width="3" height="1" fill="#26a69a"/><rect x="857" y="81" width="1" height="54" fill="#26a69a"/><rect x="856" y="101" width="3" height="34" fill="#26a69a"/><rect x="860" y="92" width="1" height="35" fill="#26a69a"/><rect x="859" y="118" width="3" height="5" fill="#26a69a"/><rect x="864" y="142" width="1" height="50" fill="#ef5350"/><rect x="863" y="159" width="3" height="6" fill="#ef5350"/><rect x="867" y="140" width="1" height="73" fill="#26a69a"/><rect x="866" y="151" width="3" height="18" fill="#26a69a"/><rect x="870" y="131" width="1" height="56" fill="#26a69a"/><rect x="869" y="168" width="3" height="12" fill="#26a69a"/><rect x="873" y="161" width="1" height="39" fill="#26a69a"/><rect x="872" y="179" width="3" height="11" fill="#26a69a"/><rect x="877" y="151" width="1" height="49" fill="#26a69a"/><rect x="876" y="189" width="3" height="10" fill="#26a69a"/><rect x="880" y="118" width="1" height="71" fill="#26a69a"/><rect x="879" y="149" width="3" height="13" fill="#26a69a"/><rect x="883" y="109" width="1" height="62" fill="#26a69a"/><rect x="882" y="133" width="3" height="38" fill="#26a69a"/><rect x="886" y="112" width="1" height="51" fill="#26a69a"/><rect x="885" y="142" width="3" height="1" fill="#26a69a"/><rect x="890" y="114" width="1" height="29" fill="#26a69a"/><rect x="889" y="133" width="3" height="10" fill="#26a69a"/><rect x="893" y="114" width="1" height="48" fill="#26a69a"/><rect x="892" y="114" width="3" height="20" fill="#26a69a"/><rect x="896" y="97" width="1" height="48" fill="#26a69a"/><rect x="895" y="133" width="3" height="12" fill="#26a69a"/><rect x="899" y="107" width="1" height="44" fill="#26a69a"/><rect x="898" y="123" width="3" height="20" fill="#26a69a"/><rect x="903" y="129" width="1" height="6" fill="#26a69a"/><rect x="902" y="133" width="3" height="2" fill="#26a69a"/><rect x="906" y="125" width="1" height="10" fill="#26a69a"/><rect x="905" y="127" width="3" height="8" fill="#26a69a"/><rect x="909" y="66" width="1" height="67" fill="#26a69a"/><rect x="908" y="123" width="3" height="10" fill="#26a69a"/><rect x="913" y="86" width="1" height="30" fill="#26a69a"/><rect x="912" y="112" width="3" height="1" fill="#26a69a"/><rect x="916" y="90" width="1" height="32" fill="#26a69a"/><rect x="915" y="105" width="3" height="10" fill="#26a69a"/><rect x="919" y="97" width="1" height="26" fill="#26a69a"/><rect x="918" y="116" width="3" height="7" fill="#26a69a"/><rect x="922" y="105" width="1" height="24" fill="#26a69a"/><rect x="921" y="105" width="3" height="18" fill="#26a69a"/><rect x="926" y="103" width="1" height="37" fill="#26a69a"/><rect x="925" y="116" width="3" height="9" fill="#26a69a"/><rect x="929" y="101" width="1" height="42" fill="#26a69a"/><rect x="928" y="123" width="3" height="20" fill="#26a69a"/><rect x="932" y="116" width="1" height="63" fill="#ef5350"/><rect x="931" y="123" width="3" height="48" fill="#ef5350"/><rect x="934" y="172" width="3" height="1" fill="#26a69a"/><rect x="939" y="140" width="1" height="28" fill="#26a69a"/><rect x="938" y="140" width="3" height="16" fill="#26a69a"/><rect x="941" y="159" width="3" height="1" fill="#26a69a"/><rect x="944" y="140" width="3" height="1" fill="#26a69a"/><rect x="947" y="140" width="3" height="1" fill="#26a69a"/><rect x="952" y="92" width="1" height="45" fill="#26a69a"/><rect x="951" y="112" width="3" height="25" fill="#26a69a"/><rect x="955" y="95" width="1" height="32" fill="#26a69a"/><rect x="954" y="122" width="3" height="1" fill="#26a69a"/><rect x="958" y="84" width="1" height="48" fill="#26a69a"/><rect x="957" y="116" width="3" height="16" fill="#26a69a"/><rect x="961" y="86" width="1" height="35" fill="#ef5350"/><rect x="960" y="118" width="3" height="3" fill="#ef5350"/><rect x="965" y="107" width="1" height="28" fill="#ef5350"/><rect x="964" y="125" width="3" height="3" fill="#ef5350"/><rect x="968" y="109" width="1" height="28" fill="#26a69a"/><rect x="967" y="125" width="3" height="12" fill="#26a69a"/><rect x="971" y="112" width="1" height="23" fill="#26a69a"/><rect x="970" y="114" width="3" height="18" fill="#26a69a"/><rect x="974" y="116" width="1" height="16" fill="#26a69a"/><rect x="973" y="120" width="3" height="12" fill="#26a69a"/><rect x="977" y="114" width="3" height="10" fill="#26a69a"/><rect x="981" y="116" width="1" height="26" fill="#26a69a"/><rect x="980" y="135" width="3" height="2" fill="#26a69a"/><rect x="984" y="127" width="1" height="18" fill="#26a69a"/><rect x="983" y="127" width="3" height="1" fill="#26a69a"/><rect x="987" y="127" width="1" height="27" fill="#26a69a"/><rect x="986" y="127" width="3" height="12" fill="#26a69a"/><rect x="991" y="138" width="1" height="39" fill="#ef5350"/><rect x="990" y="146" width="3" height="8" fill="#ef5350"/><rect x="994" y="179" width="1" height="17" fill="#26a69a"/><rect x="993" y="185" width="3" height="1" fill="#26a69a"/><rect x="996" y="125" width="3" height="72" fill="#26a69a"/><rect x="999" y="148" width="3" height="16" fill="#ef5350"/><rect x="1004" y="116" width="1" height="53" fill="#26a69a"/><rect x="1003" y="133" width="3" height="36" fill="#26a69a"/><rect x="1007" y="118" width="1" height="19" fill="#ef5350"/><rect x="1006" y="123" width="3" height="14" fill="#ef5350"/><rect x="1010" y="135" width="1" height="14" fill="#ef5350"/><rect x="1009" y="138" width="3" height="9" fill="#ef5350"/><rect x="1014" y="105" width="1" height="34" fill="#26a69a"/><rect x="1013" y="135" width="3" height="4" fill="#26a69a"/><rect x="1017" y="121" width="1" height="30" fill="#26a69a"/><rect x="1016" y="140" width="3" height="1" fill="#26a69a"/><rect x="1020" y="122" width="1" height="20" fill="#26a69a"/><rect x="1019" y="133" width="3" height="6" fill="#26a69a"/><rect x="1023" y="110" width="1" height="20" fill="#26a69a"/><rect x="1022" y="120" width="3" height="10" fill="#26a69a"/></svg>
<div class="ax" style="left:1130px;top:3px;width:1px;height:663px"></div>
<div class="ax" style="left:1194px;top:3px;width:1px;height:663px"></div>
<div class="ax" style="left:7px;top:639px;width:1245px;height:1px"></div>
<div class="s" style="left:14.70px;top:9.84px;font-size:12px;letter-spacing:-0.301px;color:#131722;">Japan</div><div class="s" style="left:49.80px;top:9.84px;font-size:12px;letter-spacing:-0.048px;color:#131722;">Government</div><div class="s" style="left:118.93px;top:9.84px;font-size:12px;letter-spacing:-0.700px;color:#131722;">Bonds</div><div class="s" style="left:154.20px;top:9.84px;font-size:12px;letter-spacing:-0.059px;color:#131722;">10</div><div class="s" style="left:170.46px;top:9.84px;font-size:12px;letter-spacing:-0.700px;color:#131722;">YR</div><div class="s" style="left:188.80px;top:9.84px;font-size:12px;letter-spacing:0.064px;color:#131722;">Yield,</div><div class="s" style="left:222.30px;top:9.84px;font-size:12px;letter-spacing:-0.344px;color:#131722;">1D,</div><div class="s" style="left:242.60px;top:9.84px;font-size:12px;letter-spacing:-0.700px;color:#131722;">TVC</div><div class="s" style="left:271.48px;top:9.84px;font-size:12px;letter-spacing:0.000px;color:#131722;">O</div><div class="s" style="left:280.30px;top:10.02px;font-size:11.5px;letter-spacing:-0.543px;color:#26a69a;">0.241%</div><div class="s" style="left:323.66px;top:9.84px;font-size:12px;letter-spacing:0.000px;color:#131722;">H</div><div class="s" style="left:332.10px;top:10.02px;font-size:11.5px;letter-spacing:-0.583px;color:#26a69a;">0.251%</div><div class="s" style="left:375.56px;top:9.84px;font-size:12px;letter-spacing:0.000px;color:#131722;">L</div><div class="s" style="left:382.00px;top:10.02px;font-size:11.5px;letter-spacing:-0.623px;color:#26a69a;">0.241%</div><div class="s" style="left:425.26px;top:9.84px;font-size:12px;letter-spacing:0.000px;color:#131722;">C</div><div class="s" style="left:433.10px;top:10.02px;font-size:11.5px;letter-spacing:-0.543px;color:#26a69a;">0.246%</div><div class="s" style="left:478.28px;top:10.02px;font-size:11.5px;letter-spacing:-0.700px;color:#26a69a;">+0.007%</div><div class="s" style="left:524.60px;top:10.02px;font-size:11.5px;letter-spacing:-0.498px;color:#26a69a;">(+2.93%)</div><div class="s" style="left:14.70px;top:26.42px;font-size:11.5px;letter-spacing:-0.431px;color:#131722;">US10Y,</div><div class="s" style="left:52.60px;top:26.24px;font-size:12px;letter-spacing:-0.700px;color:#131722;">TVC</div><div class="s" style="left:82.30px;top:26.42px;font-size:11.5px;letter-spacing:-0.683px;color:#131722;">3.027%</div><div class="s" style="left:126.20px;top:26.42px;font-size:11.5px;letter-spacing:-0.256px;color:#131722;">−0.017%</div><div class="s" style="left:174.00px;top:26.42px;font-size:11.5px;letter-spacing:-0.498px;color:#131722;">(−0.56%)</div><div class="s" style="left:1140.00px;top:12.92px;font-size:11.5px;letter-spacing:-0.503px;color:#131722;">0.300%</div><div class="s" style="left:1140.00px;top:50.12px;font-size:11.5px;letter-spacing:-0.503px;color:#131722;">0.280%</div><div class="s" style="left:1140.00px;top:87.32px;font-size:11.5px;letter-spacing:-0.503px;color:#131722;">0.260%</div><div class="s" style="left:1140.00px;top:124.52px;font-size:11.5px;letter-spacing:-0.503px;color:#131722;">0.240%</div><div class="s" style="left:1140.00px;top:161.72px;font-size:11.5px;letter-spacing:-0.503px;color:#131722;">0.220%</div><div class="s" style="left:1140.00px;top:198.92px;font-size:11.5px;letter-spacing:-0.503px;color:#131722;">0.200%</div><div class="s" style="left:1140.00px;top:236.12px;font-size:11.5px;letter-spacing:-0.503px;color:#131722;">0.180%</div><div class="s" style="left:1140.00px;top:273.32px;font-size:11.5px;letter-spacing:-0.503px;color:#131722;">0.160%</div><div class="s" style="left:1140.00px;top:310.52px;font-size:11.5px;letter-spacing:-0.503px;color:#131722;">0.140%</div><div class="s" style="left:1140.00px;top:347.72px;font-size:11.5px;letter-spacing:-0.503px;color:#131722;">0.120%</div><div class="s" style="left:1140.00px;top:384.92px;font-size:11.5px;letter-spacing:-0.503px;color:#131722;">0.100%</div><div class="s" style="left:1140.00px;top:422.12px;font-size:11.5px;letter-spacing:-0.503px;color:#131722;">0.080%</div><div class="s" style="left:1140.00px;top:459.32px;font-size:11.5px;letter-spacing:-0.503px;color:#131722;">0.060%</div><div class="s" style="left:1140.00px;top:496.52px;font-size:11.5px;letter-spacing:-0.503px;color:#131722;">0.040%</div><div class="s" style="left:1140.00px;top:533.72px;font-size:11.5px;letter-spacing:-0.503px;color:#131722;">0.020%</div><div class="s" style="left:1140.70px;top:570.92px;font-size:11.5px;letter-spacing:-0.606px;color:#131722;">−0.000%</div><div class="s" style="left:1140.70px;top:608.12px;font-size:11.5px;letter-spacing:-0.606px;color:#131722;">−0.020%</div><div class="s" style="left:1204.50px;top:42.12px;font-size:11.5px;letter-spacing:-0.643px;color:#131722;">3.200%</div><div class="s" style="left:1204.50px;top:95.28px;font-size:11.5px;letter-spacing:-0.643px;color:#131722;">3.000%</div><div class="s" style="left:1204.50px;top:148.44px;font-size:11.5px;letter-spacing:-0.643px;color:#131722;">2.800%</div><div class="s" style="left:1204.50px;top:201.60px;font-size:11.5px;letter-spacing:-0.643px;color:#131722;">2.600%</div><div class="s" style="left:1204.50px;top:254.76px;font-size:11.5px;letter-spacing:-0.643px;color:#131722;">2.400%</div><div class="s" style="left:1204.50px;top:307.92px;font-size:11.5px;letter-spacing:-0.643px;color:#131722;">2.200%</div><div class="s" style="left:1204.50px;top:361.08px;font-size:11.5px;letter-spacing:-0.643px;color:#131722;">2.000%</div><div class="s" style="left:1204.50px;top:414.24px;font-size:11.5px;letter-spacing:-0.643px;color:#131722;">1.800%</div><div class="s" style="left:1204.50px;top:467.40px;font-size:11.5px;letter-spacing:-0.643px;color:#131722;">1.600%</div><div class="s" style="left:1204.50px;top:520.56px;font-size:11.5px;letter-spacing:-0.643px;color:#131722;">1.400%</div><div class="s" style="left:1204.50px;top:573.72px;font-size:11.5px;letter-spacing:-0.643px;color:#131722;">1.200%</div><div class="s" style="left:1204.50px;top:626.88px;font-size:11.5px;letter-spacing:-0.643px;color:#131722;">1.000%</div><div class="s" style="left:14.05px;top:645.74px;font-size:12px;letter-spacing:0.006px;color:#131722;">Apr</div><div class="s" style="left:151.00px;top:645.74px;font-size:12px;letter-spacing:-0.180px;color:#131722;">Jun</div><div class="s" style="left:293.32px;top:645.74px;font-size:12px;letter-spacing:-0.700px;color:#131722;">Aug</div><div class="s" style="left:438.96px;top:645.74px;font-size:12px;letter-spacing:-0.700px;color:#131722;">Oct</div><div class="s" style="left:528.16px;top:645.74px;font-size:12px;letter-spacing:0.000px;color:#131722;">8</div><div class="s" style="left:648.55px;top:645.74px;font-size:12px;letter-spacing:-0.068px;color:#131722;font-weight:bold;">2022</div><div class="s" style="left:785.00px;top:645.74px;font-size:12px;letter-spacing:-0.336px;color:#131722;">Mar</div><div class="s" style="left:927.86px;top:645.74px;font-size:12px;letter-spacing:-0.700px;color:#131722;">May</div><div class="s" style="left:1074.50px;top:645.74px;font-size:12px;letter-spacing:-0.172px;color:#131722;">Jul</div><div class="s" style="left:29.00px;top:677.47px;font-size:12.5px;letter-spacing:0.110px;color:#131722;">TradingView</div>
<div class="tag" style="left:1085px;top:87px;width:44px;background:#000;border-radius:2px 0 0 2px"></div>
<div class="tag" style="left:1194px;top:87px;width:53px;background:#000;border-radius:0 2px 2px 0"></div>
<div class="tag" style="left:1086px;top:112px;width:43px;background:#26a69a;border-radius:2px 0 0 2px"></div>
<div class="tag" style="left:1130px;top:112px;width:53px;background:#26a69a;border-radius:0 2px 2px 0"></div>
<div class="circ" style="left:1151.5px;top:642.3px"></div>
<div class="circ" style="left:1212.3px;top:642.3px"></div>
<div class="s" style="left:1088.93px;top:89.02px;font-size:11.5px;letter-spacing:-0.700px;color:#fff;font-weight:bold;">US10Y</div><div class="s" style="left:1204.00px;top:89.02px;font-size:11.5px;letter-spacing:-0.523px;color:#fff;font-weight:bold;">3.027%</div><div class="s" style="left:1090.63px;top:114.02px;font-size:11.5px;letter-spacing:-0.700px;color:#fff;font-weight:bold;">JP10Y</div><div class="s" style="left:1140.00px;top:114.02px;font-size:11.5px;letter-spacing:-0.523px;color:#fff;font-weight:bold;">0.246%</div><div class="s" style="left:1158.09px;top:646.04px;font-size:12px;letter-spacing:0.000px;color:#4a4e59;">A</div><div class="s" style="left:1218.89px;top:646.04px;font-size:12px;letter-spacing:0.000px;color:#4a4e59;">B</div>
<svg style="position:absolute;left:6px;top:676.8px" width="19.8" height="15.4" viewBox="0 0 36 28"><path d="M14 22H7V11H0V4h14v18zM28 22h-8l7.5-18h8L28 22z" fill="#131722"/><circle cx="20" cy="8" r="3.7" fill="#131722"/></svg>
</body></html>
